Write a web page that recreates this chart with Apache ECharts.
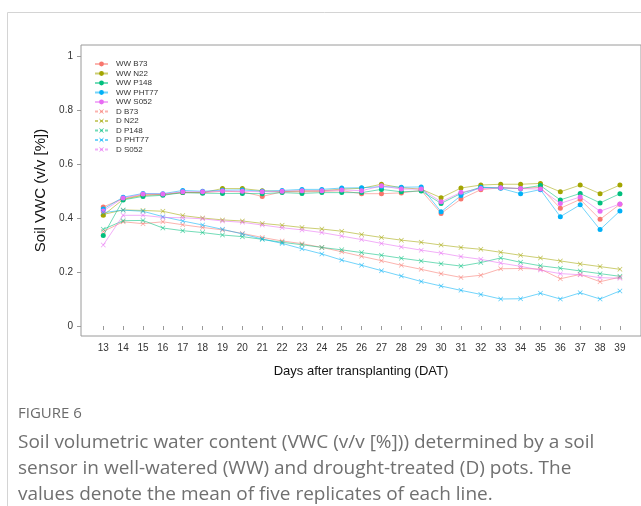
<!DOCTYPE html>
<html>
<head>
<meta charset="utf-8">
<script src="https://cdn.jsdelivr.net/npm/echarts@6/dist/echarts.min.js"></script>
<style>
  html, body { margin: 0; padding: 0; background: #ffffff; }
  #chart { width: 641px; height: 506px; }
</style>
</head>
<body>
<div id="chart"></div>
<script>
// Days after transplanting
const days = [13, 14, 15, 16, 17, 18, 19, 20, 21, 22, 23, 24, 25, 26, 27, 28, 29, 30, 31, 32, 33, 34, 35, 36, 37, 38, 39];
const yTicks = [0, 0.2, 0.4, 0.6, 0.8, 1];

// Well-watered pots (mean soil VWC)
const wwB73   = [0.441, 0.472, 0.486, 0.487, 0.494, 0.494, 0.499, 0.497, 0.480, 0.497, 0.497, 0.498, 0.501, 0.490, 0.490, 0.493, 0.502, 0.417, 0.470, 0.505, 0.512, 0.509, 0.514, 0.436, 0.469, 0.395, 0.451];
const wwN22   = [0.410, 0.469, 0.484, 0.487, 0.495, 0.494, 0.509, 0.509, 0.501, 0.498, 0.500, 0.501, 0.507, 0.510, 0.525, 0.512, 0.507, 0.475, 0.511, 0.522, 0.525, 0.525, 0.528, 0.497, 0.522, 0.490, 0.522];
const wwP148  = [0.335, 0.467, 0.480, 0.484, 0.494, 0.492, 0.491, 0.491, 0.490, 0.494, 0.491, 0.494, 0.494, 0.494, 0.506, 0.497, 0.500, 0.454, 0.491, 0.514, 0.512, 0.509, 0.520, 0.467, 0.491, 0.456, 0.490];
const wwPHT77 = [0.433, 0.477, 0.491, 0.490, 0.502, 0.499, 0.503, 0.504, 0.499, 0.502, 0.506, 0.506, 0.511, 0.512, 0.516, 0.514, 0.515, 0.423, 0.483, 0.514, 0.510, 0.490, 0.505, 0.405, 0.449, 0.357, 0.426];
const wwS052  = [0.426, 0.474, 0.489, 0.489, 0.497, 0.497, 0.500, 0.499, 0.497, 0.499, 0.501, 0.501, 0.504, 0.501, 0.519, 0.507, 0.507, 0.460, 0.495, 0.509, 0.512, 0.509, 0.507, 0.454, 0.478, 0.425, 0.452];

// Drought-treated pots (mean soil VWC)
const dB73   = [0.350, 0.386, 0.379, 0.386, 0.375, 0.365, 0.356, 0.343, 0.328, 0.315, 0.305, 0.291, 0.275, 0.258, 0.242, 0.225, 0.210, 0.194, 0.180, 0.188, 0.212, 0.213, 0.211, 0.175, 0.191, 0.164, 0.181];
const dN22   = [0.413, 0.430, 0.428, 0.425, 0.409, 0.400, 0.393, 0.389, 0.380, 0.373, 0.365, 0.359, 0.351, 0.339, 0.328, 0.318, 0.310, 0.300, 0.291, 0.284, 0.273, 0.262, 0.252, 0.241, 0.230, 0.220, 0.210];
const dP148  = [0.358, 0.390, 0.391, 0.363, 0.353, 0.346, 0.337, 0.331, 0.321, 0.310, 0.301, 0.291, 0.282, 0.272, 0.262, 0.251, 0.241, 0.231, 0.222, 0.235, 0.252, 0.236, 0.223, 0.214, 0.204, 0.194, 0.184];
const dPHT77 = [0.420, 0.429, 0.425, 0.405, 0.389, 0.374, 0.358, 0.341, 0.322, 0.306, 0.286, 0.267, 0.244, 0.225, 0.205, 0.185, 0.165, 0.148, 0.132, 0.117, 0.100, 0.101, 0.121, 0.100, 0.123, 0.100, 0.130];
const dS052  = [0.300, 0.410, 0.410, 0.402, 0.401, 0.397, 0.389, 0.384, 0.374, 0.364, 0.356, 0.346, 0.333, 0.320, 0.306, 0.293, 0.281, 0.270, 0.257, 0.247, 0.233, 0.221, 0.207, 0.194, 0.190, 0.179, 0.177];

const lineNames = ['B73', 'N22', 'P148', 'PHT77', 'S052'];
const lineColors = ['#F8766D', '#A3A500', '#00BF7D', '#00B0F6', '#E76BF3'];
const wwValues = [wwB73, wwN22, wwP148, wwPHT77, wwS052];
const dValues = [dB73, dN22, dP148, dPHT77, dS052];

// thin "x" marker for the drought series
const crossSymbol = 'path://M0,1L1,0L5,4L9,0L10,1L6,5L10,9L9,10L5,6L1,10L0,9L4,5Z';

function pairs(values) {
  return days.map((d, i) => [d, values[i]]);
}

const series = [];
const legendData = [];
lineNames.forEach((n, i) => {
  series.push({
    name: 'WW ' + n,
    type: 'line',
    data: pairs(wwValues[i]),
    symbol: 'circle',
    symbolSize: 5,
    showAllSymbol: true,
    itemStyle: { color: lineColors[i] },
    lineStyle: { color: lineColors[i], width: 1, opacity: 0.55 },
    emphasis: { disabled: true }
  });
  legendData.push({ name: 'WW ' + n });
});
lineNames.forEach((n, i) => {
  series.push({
    name: 'D ' + n,
    type: 'line',
    data: pairs(dValues[i]),
    symbol: crossSymbol,
    symbolSize: 5,
    showAllSymbol: true,
    itemStyle: { color: lineColors[i], opacity: 0.65 },
    lineStyle: { color: lineColors[i], width: 1, opacity: 0.55 },
    emphasis: { disabled: true }
  });
  legendData.push({ name: 'D ' + n, lineStyle: { type: [3, 2] } });
});

const captionFont = '19px "Open Sans"';

const chart = echarts.init(document.getElementById('chart'), null, { renderer: 'canvas' });
chart.setOption({
  animation: false,
  backgroundColor: '#ffffff',
  grid: {
    left: 81, top: 45, right: -2, bottom: 170,
    show: true, borderColor: '#9a9a9a', borderWidth: 1, backgroundColor: 'transparent'
  },
  legend: {
    orient: 'vertical',
    left: 94, top: 60,
    padding: 0,
    itemWidth: 13, itemHeight: 6, itemGap: 1.5,
    textStyle: { fontFamily: 'Liberation Sans', fontSize: 8, color: '#333', lineHeight: 8, padding: [0, 0, 0, 3] },
    data: legendData
  },
  xAxis: {
    type: 'value',
    min: 11.88, max: 40.06,
    axisLine: { show: false },
    splitLine: { show: false },
    axisTick: { show: true, length: 4, inside: false, lineStyle: { color: '#9a9a9a' }, customValues: days },
    axisLabel: { fontFamily: 'Liberation Sans', fontSize: 10, color: '#333', margin: 7, customValues: days },
    name: 'Days after transplanting (DAT)',
    nameLocation: 'middle',
    nameGap: 29,
    nameTextStyle: { fontFamily: 'Liberation Sans', fontSize: 13, color: '#111' }
  },
  yAxis: {
    type: 'value',
    min: -0.037, max: 1.0407,
    axisLine: { show: false },
    splitLine: { show: false },
    axisTick: { show: true, length: 4, lineStyle: { color: '#9a9a9a' }, customValues: yTicks },
    axisLabel: { fontFamily: 'Liberation Sans', fontSize: 10, color: '#333', margin: 8, customValues: yTicks },
    name: 'Soil VWC (v/v [%])',
    nameLocation: 'middle',
    nameGap: 33,
    nameRotate: 90,
    nameTextStyle: { fontFamily: 'Liberation Sans', fontSize: 15, color: '#111' }
  },
  graphic: [
    { type: 'line', silent: true, shape: { x1: 7.5, y1: 12.5, x2: 641, y2: 12.5 }, style: { stroke: '#d4d4d4', lineWidth: 1 } },
    { type: 'line', silent: true, shape: { x1: 7.5, y1: 12.5, x2: 7.5, y2: 506 }, style: { stroke: '#d4d4d4', lineWidth: 1 } },
    { type: 'text', silent: true, left: 18, top: 406, style: { text: 'FIGURE 6', font: '15px "Open Sans"', fill: '#6b6b6b' } },
    { type: 'text', silent: true, left: 18, top: 433, style: { text: 'Soil volumetric water content (VWC (v/v [%])) determined by a soil', font: captionFont, fill: '#707070' } },
    { type: 'text', silent: true, left: 18, top: 459, style: { text: 'sensor in well-watered (WW) and drought-treated (D) pots. The', font: captionFont, fill: '#707070' } },
    { type: 'text', silent: true, left: 18, top: 485, style: { text: 'values denote the mean of five replicates of each line.', font: captionFont, fill: '#707070' } }
  ],
  series: series
});
</script>
</body>
</html>
